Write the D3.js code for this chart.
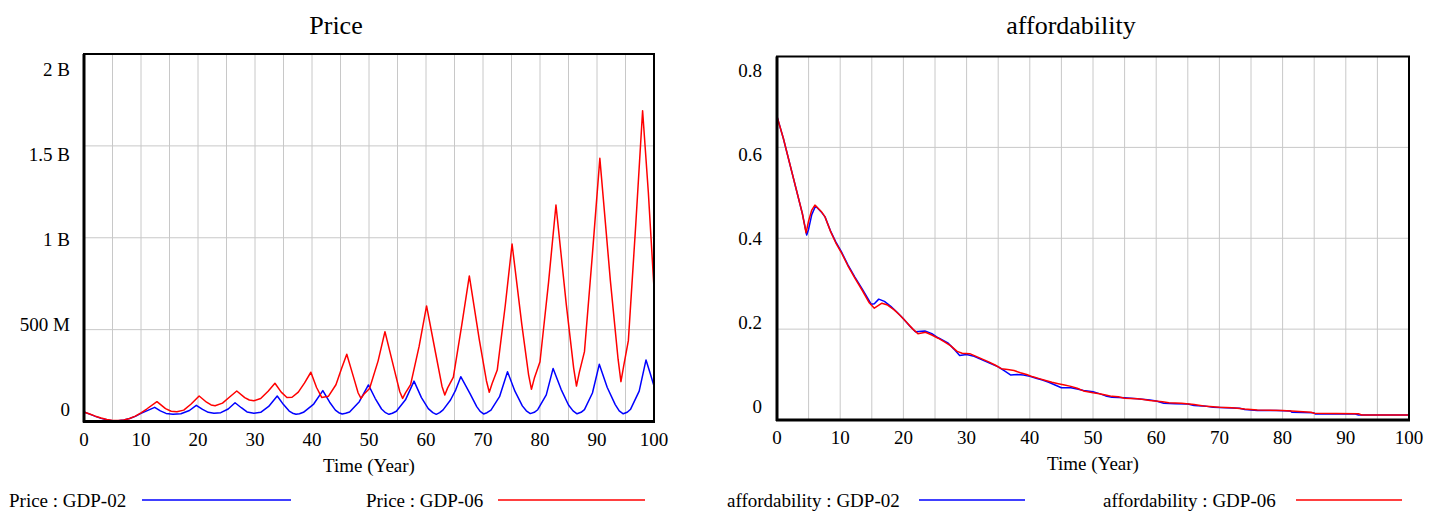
<!DOCTYPE html>
<html>
<head>
<meta charset="utf-8">
<script src="https://cdn.jsdelivr.net/npm/d3@7"></script>
<style>
  body { margin: 0; background: #fff; }
  svg { display: block; }
  text { font-family: "Liberation Serif", "Times New Roman", serif; fill: #000; }
</style>
</head>
<body>
<svg id="chart" width="1441" height="514"></svg>
<script>
// ---- data: [time (year), value] ----
// Price, millions
const priceGDP02 = [[0,52],[1,40],[2,28],[3,17],[4,9],[5,4],[6,4],[7,8],[8,16],[9,28],[10,44],[11,58],[12.4,77],[13.4,58],[14.4,44],[15.6,39],[17,42],[18.5,60],[19.7,88],[20.8,66],[21.8,50],[22.8,45],[24,48],[25.3,68],[26.5,102],[27.6,75],[28.6,52],[29.8,45],[31,50],[32.4,82],[33.9,139],[35,92],[36,57],[36.6,45],[37.2,39],[37.8,42],[38.5,50],[40.3,95],[41.9,168],[43.1,105],[44.1,62],[44.7,48],[45.3,41],[45.9,45],[46.6,52],[48.3,108],[49.9,199],[51.1,125],[52.2,68],[52.9,48],[53.5,39],[54.1,45],[54.8,56],[56.4,118],[57.9,220],[59.2,130],[60.4,70],[61.2,48],[61.8,39],[62.4,48],[63.0,63],[64.3,117],[65.2,171],[66.1,244],[67.7,153],[68.9,81],[69.5,55],[70.1,41],[70.7,48],[71.4,62],[72.9,135],[74.3,271],[75.6,165],[76.9,85],[77.6,58],[78.3,43],[79.0,50],[79.6,64],[81.1,145],[82.3,289],[83.7,175],[85.0,90],[85.8,58],[86.5,42],[87.2,50],[87.8,65],[89.2,155],[90.4,311],[91.8,185],[93.2,92],[93.9,58],[94.6,42],[95.3,50],[95.9,67],[97.4,165],[98.6,335],[99.3,265],[100,193]];
const priceGDP06 = [[0,52],[1,41],[2,29],[3,19],[4,11],[5,6],[6,5],[7,8],[8,16],[9,29],[10,47],[11,68],[12.8,108],[14.3,70],[15.3,56],[16.3,53],[17.5,62],[18.8,95],[20.2,139],[21.5,105],[22.3,90],[23,86],[24.3,100],[25.6,135],[26.8,166],[28.2,130],[29,117],[29.8,113],[31,125],[32.3,165],[33.5,208],[34.6,160],[35.6,131],[36.5,132],[37.6,160],[38.7,210],[39.8,268],[40.8,185],[41.7,131],[42.9,138],[44.2,200],[45.2,290],[46.1,366],[47.3,240],[48.1,155],[48.6,126],[49.1,148],[50.1,180],[51.6,330],[52.8,489],[54.3,300],[55.4,162],[55.9,126],[56.4,156],[57.3,201],[58.8,410],[60.1,629],[61.7,370],[62.8,192],[63.3,144],[63.8,183],[64.8,241],[66.3,530],[67.6,792],[69.35,445],[70.6,222],[71.1,159],[71.6,207],[72.5,280],[73.9,630],[75.1,966],[76.8,530],[78.0,254],[78.5,175],[79.0,235],[80.0,325],[81.5,757],[82.8,1178],[84.6,640],[85.9,292],[86.4,193],[86.9,267],[87.8,380],[89.2,912],[90.5,1432],[92.35,765],[93.7,339],[94.2,217],[94.7,305],[95.5,440],[96.8,1072],[98.0,1691],[99.0,1250],[100,725]];

// Affordability, ratio
const affordGDP02 = [[0,0.668],[1,0.62],[2,0.565],[3,0.51],[4,0.455],[4.7,0.407],[5.0,0.42],[5.5,0.452],[6.1,0.471],[7,0.458],[7.6,0.447],[8.5,0.415],[9.3,0.392],[10.2,0.37],[11.2,0.342],[12.3,0.315],[13.5,0.288],[14.9,0.255],[15.4,0.256],[16.1,0.266],[17,0.261],[18,0.25],[19,0.237],[20,0.223],[21,0.207],[21.9,0.194],[23.4,0.196],[24.5,0.19],[25.5,0.181],[27.1,0.169],[28,0.156],[28.9,0.142],[30,0.144],[31,0.141],[32,0.135],[33,0.129],[34,0.123],[35,0.117],[36,0.108],[37,0.099],[38,0.1],[39,0.099],[40,0.096],[41,0.092],[42,0.088],[43,0.083],[44,0.077],[45,0.071],[46.5,0.071],[47.5,0.068],[48.5,0.065],[50,0.062],[51,0.058],[52,0.053],[53,0.05],[55,0.049],[57,0.047],[59,0.044],[60,0.042],[61.2,0.037],[63,0.036],[65,0.035],[66,0.032],[68,0.03],[69,0.028],[71,0.027],[73.2,0.026],[74,0.023],[76,0.021],[79,0.021],[81.2,0.02],[81.5,0.017],[84.9,0.016],[85.2,0.013],[91.5,0.013],[92,0.011],[100,0.011]];
const affordGDP06 = [[0,0.668],[1,0.62],[2,0.565],[3,0.51],[4,0.455],[4.6,0.412],[5.0,0.438],[5.5,0.462],[6.0,0.473],[7,0.459],[7.6,0.447],[8.5,0.414],[9.3,0.39],[10.2,0.368],[11.2,0.34],[12.3,0.313],[13.5,0.285],[14.6,0.258],[15.4,0.246],[16.6,0.257],[17.5,0.253],[18.5,0.243],[19.5,0.23],[20.5,0.215],[21.5,0.2],[22.3,0.19],[23.5,0.193],[24.5,0.187],[25.5,0.18],[26.5,0.172],[27.5,0.163],[28.5,0.151],[29.3,0.147],[30.5,0.146],[31.5,0.14],[32.5,0.134],[33.5,0.128],[34.5,0.121],[35.5,0.113],[36.5,0.111],[37.5,0.109],[38.5,0.104],[39.5,0.1],[40.5,0.095],[41.5,0.091],[42.5,0.087],[43.5,0.083],[44.5,0.08],[45.5,0.077],[46.5,0.074],[47.5,0.07],[48.5,0.064],[50,0.06],[51,0.058],[52,0.055],[53,0.052],[54,0.051],[55,0.048],[57,0.047],[58,0.045],[59,0.043],[61,0.04],[62,0.038],[64,0.037],[66,0.034],[67,0.032],[68,0.03],[70,0.028],[72,0.027],[74,0.024],[76,0.022],[80,0.021],[82,0.019],[84.5,0.017],[85,0.015],[92,0.014],[92.5,0.011],[100,0.011]];

// ---- axis ticks ----
const timeTicks = [0,10,20,30,40,50,60,70,80,90,100];
const timeGrid = [5,10,15,20,25,30,35,40,45,50,55,60,65,70,75,80,85,90,95];
const priceTicks = [0, 500, 1000, 1500, 2000];
const priceTickLabels = ["0", "500 M", "1 B", "1.5 B", "2 B"];
const affordTicks = [0, 0.2, 0.4, 0.6, 0.8];
const affordTickLabels = ["0", "0.2", "0.4", "0.6", "0.8"];

const svg = d3.select("#chart");

const panels = [
  {
    title: "Price", titleX: 336,
    plot: { left: 84, right: 654, top: 54, bottom: 421.5 },
    yDomain: [0, 2000], ticks: priceTicks, tickLabels: priceTickLabels,
    labelRange: [409, 69], labelRight: 70, xLabelY: 446,
    series: [
      { name: "Price : GDP-02", data: priceGDP02, color: "#0000ff", textX: 9, lineX: [142, 291] },
      { name: "Price : GDP-06", data: priceGDP06, color: "#ff0000", textX: 366, lineX: [498, 645] }
    ]
  },
  {
    title: "affordability", titleX: 1071,
    plot: { left: 777, right: 1409, top: 56.5, bottom: 420 },
    yDomain: [0, 0.8], ticks: affordTicks, tickLabels: affordTickLabels,
    labelRange: [406.7, 70.7], labelRight: 762, xLabelY: 444,
    series: [
      { name: "affordability : GDP-02", data: affordGDP02, color: "#0000ff", textX: 727, lineX: [919, 1025] },
      { name: "affordability : GDP-06", data: affordGDP06, color: "#ff0000", textX: 1103, lineX: [1296, 1402] }
    ]
  }
];

panels.forEach(p => {
  const g = svg.append("g");
  const x = d3.scaleLinear().domain([0, 100]).range([p.plot.left, p.plot.right]);
  const y = d3.scaleLinear().domain(p.yDomain).range([p.plot.bottom, p.plot.top]);
  // tick labels sit on their own evenly spaced band beside the axis
  const yLabel = d3.scaleLinear().domain(p.yDomain).range(p.labelRange);

  // grid
  g.append("g").selectAll("line").data(timeGrid).join("line")
    .attr("x1", d => x(d)).attr("x2", d => x(d))
    .attr("y1", p.plot.top).attr("y2", p.plot.bottom)
    .attr("stroke", "#c8c8c8").attr("stroke-width", 1);
  g.append("g").selectAll("line").data(p.ticks.slice(1, -1)).join("line")
    .attr("x1", p.plot.left).attr("x2", p.plot.right)
    .attr("y1", d => y(d)).attr("y2", d => y(d))
    .attr("stroke", "#c8c8c8").attr("stroke-width", 1);

  // series
  const line = d3.line().x(d => x(d[0])).y(d => y(d[1])).curve(d3.curveLinear);
  p.series.forEach(s => {
    g.append("path").datum(s.data)
      .attr("d", line)
      .attr("fill", "none")
      .attr("stroke", s.color)
      .attr("stroke-width", 1.5)
      .attr("stroke-linejoin", "round");
  });

  // frame
  g.append("rect")
    .attr("x", p.plot.left).attr("y", p.plot.top)
    .attr("width", p.plot.right - p.plot.left)
    .attr("height", p.plot.bottom - p.plot.top)
    .attr("fill", "none").attr("stroke", "#000").attr("stroke-width", 2);
  g.append("line")
    .attr("x1", p.plot.left).attr("x2", p.plot.left)
    .attr("y1", p.plot.top).attr("y2", p.plot.bottom + 1)
    .attr("stroke", "#000").attr("stroke-width", 3);
  g.append("line")
    .attr("x1", p.plot.left - 1).attr("x2", p.plot.right + 1)
    .attr("y1", p.plot.bottom).attr("y2", p.plot.bottom)
    .attr("stroke", "#000").attr("stroke-width", 3);

  // y tick labels
  g.append("g").selectAll("text").data(p.ticks).join("text")
    .attr("x", p.labelRight).attr("y", d => yLabel(d))
    .attr("dy", "0.35em")
    .attr("text-anchor", "end")
    .attr("font-size", 19)
    .text((d, i) => p.tickLabels[i]);

  // x tick labels
  g.append("g").selectAll("text").data(timeTicks).join("text")
    .attr("x", d => x(d)).attr("y", p.xLabelY)
    .attr("text-anchor", "middle")
    .attr("font-size", 19)
    .text(d => d);

  // x axis title
  g.append("text")
    .attr("x", (p.plot.left + p.plot.right) / 2).attr("y", p.xLabelY + 26)
    .attr("text-anchor", "middle").attr("font-size", 19)
    .text("Time (Year)");

  // chart title
  g.append("text")
    .attr("x", p.titleX).attr("y", 34)
    .attr("text-anchor", "middle").attr("font-size", 26)
    .text(p.title);

  // legend
  p.series.forEach(s => {
    g.append("text")
      .attr("x", s.textX).attr("y", 507)
      .attr("font-size", 19)
      .text(s.name);
    g.append("line")
      .attr("x1", s.lineX[0]).attr("x2", s.lineX[1])
      .attr("y1", 500).attr("y2", 500)
      .attr("stroke", s.color).attr("stroke-width", 1.5);
  });
});
</script>
</body>
</html>
